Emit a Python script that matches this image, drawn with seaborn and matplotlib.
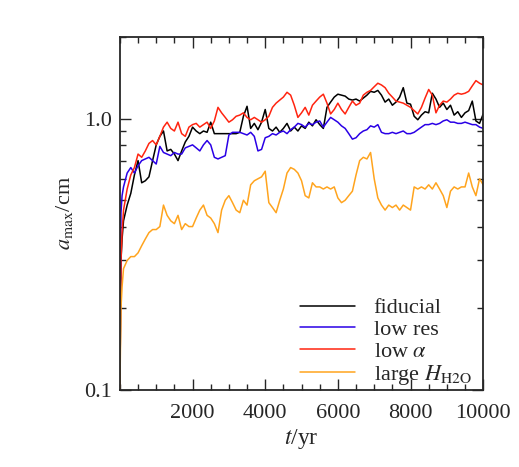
import matplotlib
matplotlib.use("Agg")
import matplotlib.pyplot as plt
import pandas as pd
import seaborn as sns
from matplotlib.ticker import FuncFormatter, MultipleLocator, LogLocator, NullFormatter

# --- data ---
t_yr = [0, 30, 60] + list(range(100, 10001, 100))

fiducial = [0.10, 0.30, 0.36,
            0.42, 0.48, 0.53, 0.62, 0.70, 0.58, 0.59, 0.61, 0.70, 0.80,
            0.86, 0.90, 0.76, 0.77, 0.74, 0.70, 0.76, 0.82, 0.86, 0.93,
            0.90, 0.88, 0.90, 0.89, 0.97, 0.88, 0.88, 0.88, 0.88, 0.88,
            0.88, 0.88, 0.89, 1.02, 1.11, 0.92, 0.96, 0.91, 0.97, 1.08,
            0.92, 0.90, 0.93, 0.89, 0.92, 0.96, 0.90, 0.93, 0.90, 0.94,
            0.92, 0.97, 0.94, 0.99, 0.95, 0.92, 1.10, 1.15, 1.20, 1.23,
            1.22, 1.21, 1.18, 1.17, 1.18, 1.16, 1.19, 1.22, 1.26, 1.25,
            1.27, 1.22, 1.15, 1.18, 1.12, 1.15, 1.20, 1.30, 1.14, 1.13,
            1.02, 0.99, 1.03, 1.06, 1.05, 1.24, 1.18, 1.10, 1.14, 1.08,
            1.12, 1.03, 1.06, 1.01, 1.05, 1.07, 1.16, 0.98, 0.96, 1.04]

low_res = [0.10, 0.45, 0.52,
           0.56, 0.63, 0.66, 0.63, 0.67, 0.70, 0.71, 0.72, 0.70, 0.68,
           0.79, 0.75, 0.74, 0.73, 0.75, 0.74, 0.74, 0.78, 0.79, 0.80,
           0.78, 0.76, 0.80, 0.83, 0.80, 0.72, 0.71, 0.72, 0.73, 0.87,
           0.89, 0.89, 0.89, 0.88, 0.87, 0.89, 0.86, 0.76, 0.77, 0.85,
           0.86, 0.88, 0.87, 0.89, 0.90, 0.88, 0.91, 0.93, 0.96, 0.95,
           0.93, 0.96, 0.95, 0.97, 0.98, 0.93, 0.97, 1.01, 0.99, 0.97,
           0.94, 0.92, 0.88, 0.84, 0.85, 0.88, 0.90, 0.91, 0.94, 0.93,
           0.95, 0.89, 0.88, 0.88, 0.89, 0.88, 0.89, 0.90, 0.88, 0.88,
           0.89, 0.91, 0.93, 0.95, 0.95, 0.96, 0.95, 0.96, 0.98, 0.99,
           0.97, 0.97, 0.96, 0.96, 0.97, 0.96, 0.95, 0.95, 0.93, 0.92]

low_alpha = [0.10, 0.30, 0.38,
             0.46, 0.55, 0.62, 0.66, 0.74, 0.72, 0.76, 0.81, 0.83, 0.80,
             0.86, 0.93, 0.97, 0.92, 0.90, 0.97, 0.88, 0.86, 0.93, 0.95,
             0.96, 0.93, 0.95, 0.97, 0.92, 0.98, 1.10, 1.05, 1.01, 0.97,
             0.99, 1.02, 1.03, 1.05, 1.01, 0.99, 1.01, 0.99, 0.97, 0.99,
             1.02, 1.10, 1.14, 1.17, 1.20, 1.25, 1.22, 1.12, 1.01, 1.05,
             1.10, 1.03, 1.12, 1.16, 1.20, 1.23, 1.14, 1.04, 1.08, 1.14,
             1.08, 1.04, 1.10, 1.16, 1.12, 1.14, 1.22, 1.25, 1.27, 1.31,
             1.35, 1.33, 1.30, 1.24, 1.20, 1.16, 1.15, 1.14, 1.12, 1.10,
             1.07, 1.04, 1.10, 1.19, 1.28, 1.22, 1.05, 1.12, 1.16, 1.15,
             1.18, 1.22, 1.24, 1.23, 1.24, 1.26, 1.32, 1.38, 1.35, 1.33]

large_h = [0.10, 0.20, 0.24,
           0.28, 0.30, 0.31, 0.31, 0.32, 0.34, 0.36, 0.38, 0.39, 0.39,
           0.40, 0.48, 0.44, 0.42, 0.41, 0.44, 0.39, 0.41, 0.40, 0.40,
           0.43, 0.46, 0.48, 0.44, 0.43, 0.41, 0.38, 0.46, 0.50, 0.52,
           0.49, 0.46, 0.45, 0.50, 0.48, 0.57, 0.59, 0.60, 0.61, 0.64,
           0.49, 0.47, 0.45, 0.50, 0.55, 0.63, 0.66, 0.65, 0.63, 0.59,
           0.52, 0.51, 0.58, 0.56, 0.56, 0.55, 0.56, 0.55, 0.56, 0.51,
           0.49, 0.50, 0.52, 0.54, 0.62, 0.70, 0.72, 0.71, 0.75, 0.60,
           0.51, 0.48, 0.46, 0.48, 0.47, 0.48, 0.46, 0.48, 0.47, 0.46,
           0.56, 0.55, 0.56, 0.55, 0.57, 0.55, 0.58, 0.55, 0.52, 0.47,
           0.54, 0.56, 0.55, 0.56, 0.56, 0.63, 0.56, 0.52, 0.60, 0.57]

runs = ['fiducial', 'low res', r'low $\alpha$', r'large $H_{\rm H2O}$']
colors = ['black', '#2a00e6', '#ff2410', '#ffa41e']

# --- style ---
sns.set_style("ticks")
plt.rcParams['font.family'] = ['Liberation Serif', 'DejaVu Serif']
plt.rcParams['mathtext.fontset'] = 'stix'
plt.rcParams['font.size'] = 15

df = pd.DataFrame({
    't': t_yr * 4,
    'a_max': fiducial + low_res + low_alpha + large_h,
    'run': sum([[r] * len(t_yr) for r in runs], []),
})

fig = plt.figure(figsize=(5.19, 4.67), dpi=100)
ax = fig.add_axes([0.231, 0.165, 0.700, 0.756])

sns.lineplot(data=df, x='t', y='a_max', hue='run', hue_order=runs,
             palette=dict(zip(runs, colors)), estimator=None,
             linewidth=1.1, ax=ax)

ax.set_yscale('log')
ax.set_xlim(0, 10000)
ax.set_ylim(0.1, 2.0)

ax.set_xticks([2000, 4000, 6000, 8000, 10000])
ax.xaxis.set_minor_locator(MultipleLocator(500))
ax.yaxis.set_major_locator(LogLocator(base=10))
ax.yaxis.set_minor_locator(LogLocator(base=10, subs=range(2, 10)))
ax.yaxis.set_major_formatter(FuncFormatter(lambda v, _: f'{v:.1f}'))
ax.yaxis.set_minor_formatter(NullFormatter())

ax.tick_params(which='both', direction='in', top=True, right=True,
               width=1.0, labelsize=16, pad=6)
ax.tick_params(axis='x', which='both', pad=10)
ax.tick_params(which='major', length=8)
ax.tick_params(which='minor', length=4)
for s in ax.spines.values():
    s.set_linewidth(1.3)

ax.set_xlabel(r'$t$/yr', fontsize=17, labelpad=3)
ax.set_ylabel(r'$a_{\rm max}$/cm', fontsize=16, labelpad=6)

ax.legend(loc='lower right', bbox_to_anchor=(1.01, -0.035), frameon=False,
          fontsize=16, handlelength=2.45, handletextpad=0.85,
          labelspacing=0.05, borderaxespad=0.3)

fig.savefig('out.png', dpi=100)
